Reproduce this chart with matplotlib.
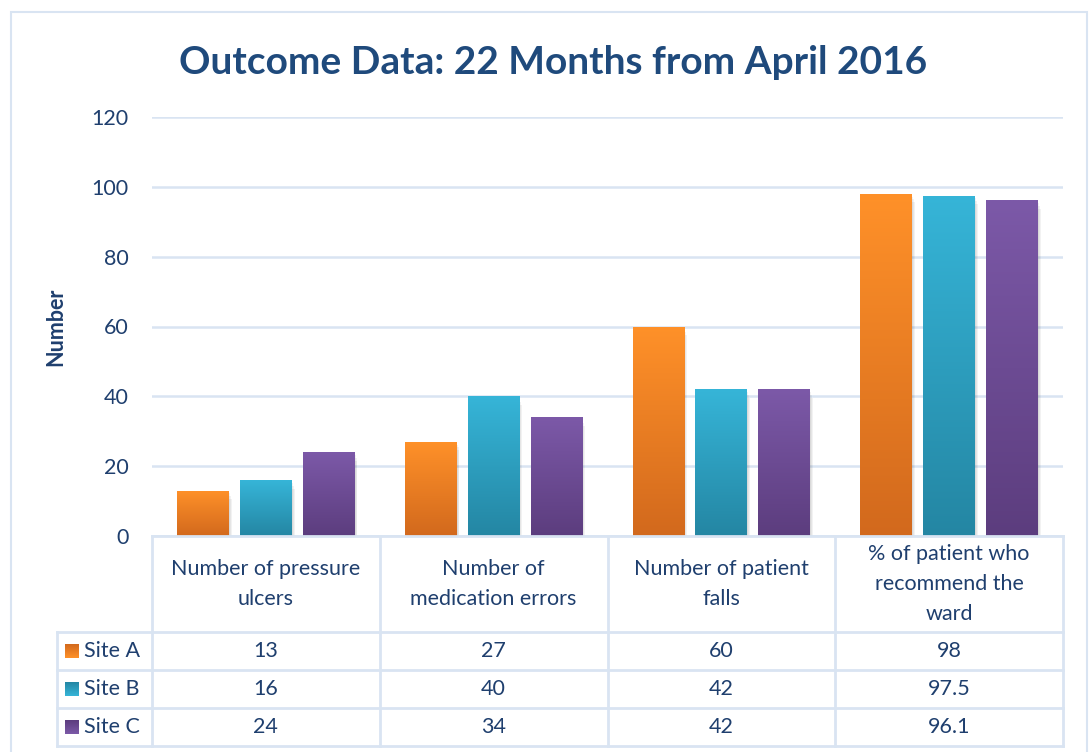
import numpy as np
import matplotlib.pyplot as plt
from matplotlib.colors import LinearSegmentedColormap
from matplotlib.patches import Rectangle

# data
categories = ['Number of pressure\nulcers', 'Number of\nmedication errors',
              'Number of patient\nfalls', '% of patient who\nrecommend the\nward']
series_names = ['Site A', 'Site B', 'Site C']
site_a = [13, 27, 60, 98]
site_b = [16, 40, 42, 97.5]
site_c = [24, 34, 42, 96.1]
table_text = [['13', '27', '60', '98'],
              ['16', '40', '42', '97.5'],
              ['24', '34', '42', '96.1']]

# gradient colours (top, bottom)
grads = [('#FF9129', '#D2691D'), ('#36B5D8', '#2486A3'), ('#7C59A8', '#5C3D7E')]
text_col = '#1F3F6E'
grid_col = '#D9E4F2'
fs = 15.5

plt.rcParams['font.family'] = ['Lato', 'DejaVu Sans']

fig = plt.figure(figsize=(10.89, 7.52), dpi=100)

# outer chart frame
fig.patches.append(Rectangle((11 / 1089, -0.05), 1076 / 1089, 1 - 12 / 752 + 0.05,
                             transform=fig.transFigure, fill=False,
                             edgecolor=grid_col, linewidth=1.5))

ax = fig.add_axes([152 / 1089, 1 - 536 / 752, 911 / 1089, 419 / 752])
x = np.arange(len(categories))
width = 0.228
step = 0.276

for i, vals in enumerate([site_a, site_b, site_c]):
    cmap = LinearSegmentedColormap.from_list('g%d' % i, [grads[i][1], grads[i][0]])
    grad = np.linspace(0, 1, 256).reshape(-1, 1)
    bars = ax.bar(x + (i - 1) * step, vals, width, color='none', zorder=3)
    for b in bars:
        bx, bw, bh = b.get_x(), b.get_width(), b.get_height()
        # soft shadow
        for k, a in enumerate([0.05, 0.05, 0.05]):
            ax.add_patch(Rectangle((bx + 0.004 * (k + 1), -0.8 * (k + 1)), bw, bh,
                                   facecolor='black', alpha=a, linewidth=0, zorder=2))
        im = ax.imshow(grad, extent=[bx, bx + bw, 0, bh], origin='lower',
                       cmap=cmap, aspect='auto', zorder=3)
        im.set_clip_path(b)

ax.set_xlim(-0.5, 3.5)
ax.set_ylim(0, 120)
ax.set_yticks(range(0, 121, 20))
ax.set_xticks([])
ax.yaxis.grid(True, color=grid_col, linewidth=1.8)
ax.set_axisbelow(True)
for s in ax.spines.values():
    s.set_visible(False)
ax.tick_params(axis='y', length=0, pad=17, labelsize=fs, labelcolor=text_col)
ax.set_ylabel('Number', fontsize=15.5, fontweight='bold', color=text_col, labelpad=18)

fig.text(553 / 1089, 1 - 62 / 752, 'Outcome Data: 22 Months from April 2016',
         ha='center', va='center', fontsize=28, fontweight='bold', color='#1F4A7C')

# data table below the axis
lab_w = 95 / (911 / 4)
tax = fig.add_axes([57 / 1089, 1 - 746 / 752, 1006 / 1089, 210 / 752])
tax.set_xlim(-0.5 - lab_w, 3.5)
tax.set_ylim(210, 0)
tax.axis('off')
row_edges = [0, 96, 134, 172, 210]
lc = dict(color=grid_col, linewidth=2, clip_on=False)
# horizontal lines
tax.plot([-0.5, 3.5], [0, 0], **lc)
for y in row_edges[1:]:
    tax.plot([-0.5 - lab_w, 3.5], [y, y], **lc)
# vertical lines
for xv in np.arange(-0.5, 4.0, 1.0):
    tax.plot([xv, xv], [0, 210], **lc)
tax.plot([-0.5 - lab_w] * 2, [96, 210], **lc)

for j, c in enumerate(categories):
    tax.text(j, 48, c, ha='center', va='center', fontsize=fs, color=text_col,
             linespacing=1.65)
for r in range(3):
    yc = (row_edges[r + 1] + row_edges[r + 2]) / 2
    cmap = LinearSegmentedColormap.from_list('k%d' % r, [grads[r][1], grads[r][0]])
    kx = -0.5 - lab_w + 8 / 227.75
    kw = 14 / 227.75
    key = Rectangle((kx, yc - 7), kw, 14, facecolor='none', linewidth=0)
    tax.add_patch(key)
    im = tax.imshow(np.linspace(0, 1, 64).reshape(-1, 1), extent=[kx, kx + kw, yc + 7, yc - 7],
                    origin='upper', cmap=cmap, aspect='auto')
    im.set_clip_path(key)
    tax.text(kx + kw + 5 / 227.75, yc, series_names[r], ha='left', va='center',
             fontsize=fs, color=text_col)
    for j in range(4):
        tax.text(j, yc, table_text[r][j], ha='center', va='center', fontsize=fs,
                 color=text_col)
tax.set_xlim(-0.5 - lab_w, 3.5)
tax.set_ylim(210, 0)

fig.savefig('out.png', dpi=100)
